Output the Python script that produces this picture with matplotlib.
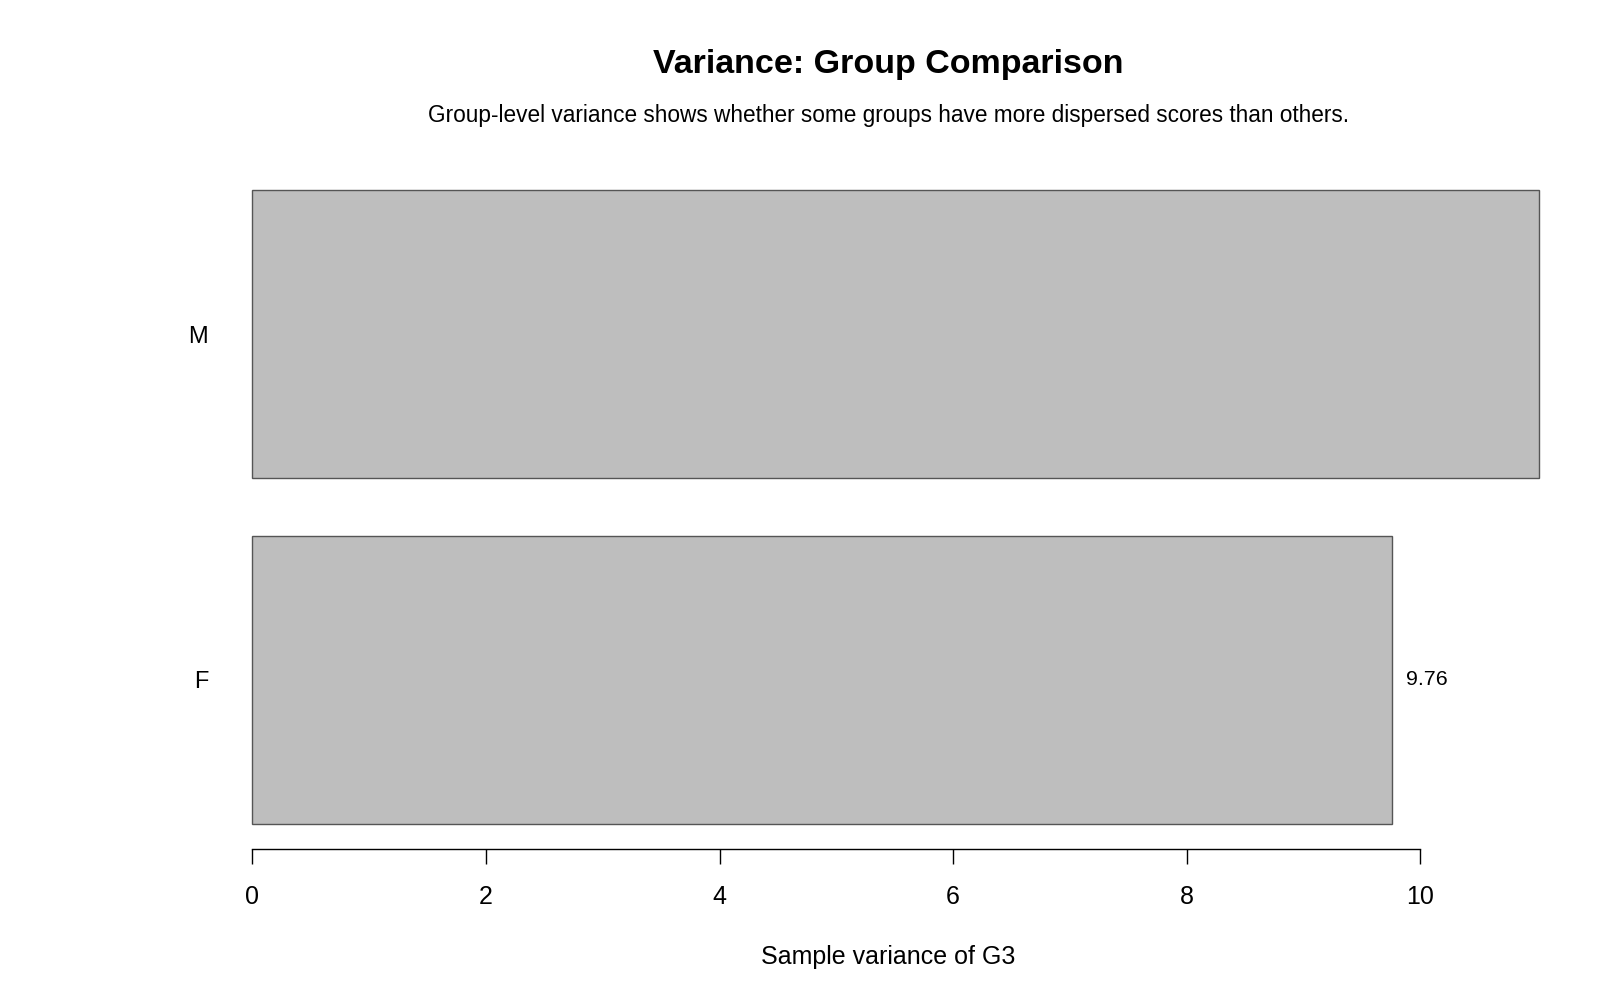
import matplotlib
matplotlib.use("Agg")
import matplotlib.pyplot as plt

# Data
groups = ["F", "M"]
variances = [9.76, 11.02]
x_ticks = [0, 2, 4, 6, 8, 10]

title = "Variance: Group Comparison"
subtitle = "Group-level variance shows whether some groups have more dispersed scores than others."
xlabel = "Sample variance of G3"

plt.rcParams['font.family'] = ['Liberation Sans', 'DejaVu Sans']

W, H = 1600, 1000
fig = plt.figure(figsize=(16, 10), dpi=100)

# axes placement in pixels
ax_left_px, ax_right_px = 200, 1545
ax_top_px, ax_bottom_px = 165, 849
ax = fig.add_axes([ax_left_px / W, 1 - ax_bottom_px / H,
                   (ax_right_px - ax_left_px) / W, (ax_bottom_px - ax_top_px) / H])

zero_px, unit_px = 252.3, 116.8
xmin, xmax = (ax_left_px - zero_px) / unit_px, (ax_right_px - zero_px) / unit_px
ax.set_xlim(xmin, xmax)

centers = [0.7, 1.9]
ax.barh(centers, variances, height=1.0, color="#bebebe", edgecolor="#555555", linewidth=1.0)
ax.set_ylim(0.112, 2.488)

# value labels; like R, a label that would run outside the plot region is dropped
label_offset = 12 / unit_px
for c, v in zip(centers, variances):
    if v + label_offset + 0.45 <= xmax:
        ax.annotate(f"{v:.2f}", xy=(v, c), xytext=(10, 0), textcoords="offset points",
                    ha="left", va="center", fontsize=15.4)

for s in ["top", "right", "left"]:
    ax.spines[s].set_visible(False)
ax.spines["bottom"].set_bounds(0, 10)
ax.spines["bottom"].set_linewidth(1.0)
ax.set_xticks(x_ticks)
ax.set_xticklabels([str(t) for t in x_ticks])
ax.tick_params(axis="x", length=10.8, width=1.0, pad=14.8, labelsize=18)
ax.set_yticks(centers)
ax.set_yticklabels(groups)
ax.tick_params(axis="y", length=0, pad=-5.8, labelsize=17)

fig.text(888 / W, 1 - 65 / H, title, ha="center", va="center", fontsize=24.5, fontweight="bold")
fig.text(888 / W, 1 - 115.5 / H, subtitle, ha="center", va="center", fontsize=16.3)
fig.text(888 / W, 1 - 957 / H, xlabel, ha="center", va="center", fontsize=18)

fig.savefig("out.png", dpi=100)
